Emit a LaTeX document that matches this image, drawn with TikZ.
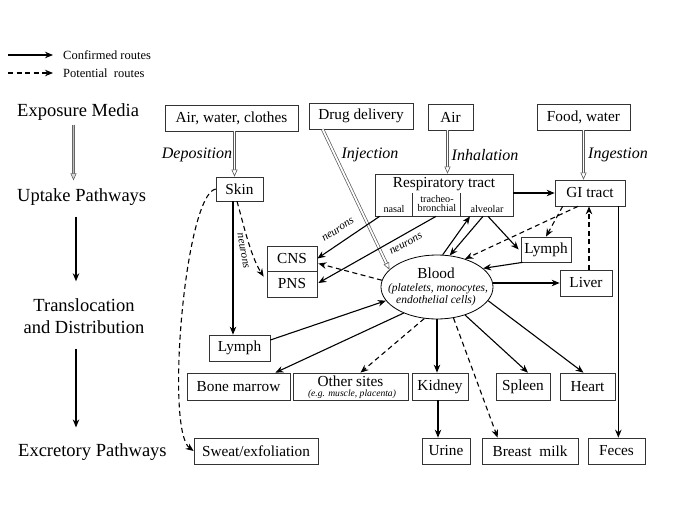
\documentclass[tikz,border=0pt]{standalone}
\usepackage{fontspec}
\setmainfont{Liberation Serif}
\usetikzlibrary{arrows.meta,shapes.geometric,calc}
\newcommand\bxf{\fontsize{15.3}{17}\selectfont}
\newcommand\bigf{\fontsize{18.5}{22}\selectfont}
\newcommand\itf{\fontsize{16}{19}\selectfont\itshape}
\newcommand\legf{\fontsize{12.5}{14}\selectfont}
\newcommand\smf{\fontsize{10.2}{10}\selectfont}
\newcommand\neuf{\fontsize{11.3}{12}\selectfont\itshape}
\newcommand\bldf{\fontsize{11.5}{13}\selectfont\itshape}
\newcommand\tinyf{\fontsize{9.6}{11}\selectfont\itshape}
\begin{document}
\begin{tikzpicture}[x=1pt,y=-1pt,
  box/.style={draw=black!80, line width=0.7pt, inner sep=0pt, minimum height=26pt, font=\bxf},
  lab/.style={inner sep=0pt},
  conf/.style={draw=black, line width=1.1pt, -{Stealth[length=8pt,width=6.5pt]}},
  pot/.style={conf, dash pattern=on 5pt off 3.5pt},
  hollow/.style={draw=none,
     postaction={draw=black!65, line width=0.7pt, double=white, double distance=1.8pt, shorten >=6pt},
     postaction={draw=black!65, line width=0.6pt, dash pattern=on 0pt off 3000pt,
       -{Triangle[open,length=7pt,width=6pt,fill=white]}}},
  hollowgray/.style={draw=none,
     postaction={draw=black!60, line width=0.7pt, double=black!25, double distance=1.6pt, shorten >=6pt},
     postaction={draw=black!60, line width=0.6pt, dash pattern=on 0pt off 3000pt,
       -{Triangle[open,length=7pt,width=6pt,fill=black!15]}}}
]
\useasboundingbox (0,0) rectangle (685,513);

% legend
\coordinate (lg1a) at (8,55);
\coordinate (lg2a) at (8,73);
\node[lab, font=\legf, anchor=west] (lg1) at (63,55) {Confirmed routes};
\node[lab, font=\legf, anchor=west] (lg2) at (63,73) {Potential\ \ routes};
\draw[conf] (lg1a) -- ($(lg1.west)+(-10,0)$);
\draw[pot] (lg2a) -- ($(lg2.west)+(-10,0)$);

% left column
\node[lab, font=\bigf, anchor=west] (expo) at (17,112) {Exposure Media};
\node[lab, font=\bigf, anchor=west] (upt) at (17,197) {Uptake Pathways};
\node[lab, font=\bigf, align=center] (trans) at (84,316) {Translocation\\and Distribution};
\node[lab, font=\bigf, anchor=west] (excr) at (18,452) {Excretory Pathways};
\coordinate (lxa) at (73.5,0);
\coordinate (lxb) at (76,0);
\path[hollowgray] ($(expo.south -| lxa)+(0,4)$) -- ($(upt.north -| lxa)+(0,-8)$);
\draw[conf] ($(upt.south -| lxb)+(0,11)$) -- ($(trans.north -| lxb)+(0,-17)$);
\draw[conf] ($(trans.south -| lxb)+(0,15)$) -- ($(excr.north -| lxb)+(0,-16)$);

% top boxes
\node[box, minimum width=133pt] (air1) at (231.5,118) {Air, water, clothes};
\node[box, minimum width=104pt] (drug) at (361,116) {Drug delivery};
\node[box, minimum width=45pt] (air2) at (450.5,117) {Air};
\node[box, minimum width=93pt] (food) at (583.5,117) {Food, water};

% italic labels
\node[lab, font=\itf] (ldep) at (197,155) {Deposition};
\node[lab, font=\itf] (linj) at (370,155) {Injection};
\node[lab, font=\itf] (linh) at (485,155) {Inhalation};
\node[lab, font=\itf] (ling) at (618,155) {Ingestion};

% uptake
\node[box, minimum width=47pt, minimum height=24pt] (skin) at (239.5,189) {Skin};
\node[box, minimum width=138pt, minimum height=42pt] (resp) at (444,195) {};
\node[lab, font=\bxf] (resptxt) at (444,184) {Respiratory tract};
\node[lab, font=\smf] (nasal) at (394,209) {nasal};
\node[lab, font=\smf, align=center] (trach) at (437,204) {tracheo-\\[-1pt]bronchial};
\node[lab, font=\smf] (alv) at (487,209) {alveolar};
\draw[black!80, line width=0.8pt] ($(resp.south west)+(38,0)$) -- ++(0,-23);
\draw[black!80, line width=0.8pt] ($(resp.south west)+(86,0)$) -- ++(0,-23);
\node[box, minimum width=70pt] (gi) at (590,193) {GI tract};

% distribution
\node[box, minimum width=50pt, minimum height=25pt] (lymphR) at (546,249.5) {Lymph};
\node[box, minimum width=52pt] (liver) at (586,283) {Liver};
\node[box, minimum width=50pt, minimum height=25pt] (cns) at (292,258.5) {CNS};
\node[box, minimum width=50pt, minimum height=26pt] (pns) at (292,284) {PNS};
\node[draw=black, line width=0.8pt, ellipse, minimum width=112pt, minimum height=64pt, inner sep=0pt] (blood) at (437,287) {};
\node[lab, font=\bxf] (bloodtxt) at (436,273) {Blood};
\node[lab, font=\bldf] (blood2) at (438,289) {(platelets, monocytes,};
\node[lab, font=\bldf] (blood3) at (436,301) {endothelial cells)};
\node[box, minimum width=61pt] (lymphL) at (239.5,348) {Lymph};

% organs
\node[box, minimum width=103pt, minimum height=27pt] (bone) at (238.5,386.5) {Bone marrow};
\node[box, minimum width=115pt, minimum height=27pt] (other) at (350.5,386.5) {};
\node[lab, font=\bxf] (othertxt) at (350.5,381) {Other sites};
\node[lab, font=\tinyf] (other2) at (352,394) {(e.g. muscle, placenta)};
\node[box, minimum width=56pt, minimum height=27pt] (kidney) at (440,386.5) {Kidney};
\node[box, minimum width=54pt, minimum height=27pt] (spleen) at (523,386.5) {Spleen};
\node[box, minimum width=55pt, minimum height=27pt] (heart) at (587.5,386.5) {Heart};

% excretion
\node[box, minimum width=124pt] (sweat) at (256,451) {Sweat/exfoliation};
\node[box, minimum width=48pt] (urine) at (446,451) {Urine};
\node[box, minimum width=96pt] (breast) at (530,451) {Breast\ \ milk};
\node[box, minimum width=57pt] (feces) at (616.5,451) {Feces};

% hollow uptake arrows
\coordinate (h1) at ($(air1.south)+(3,0)$);
\path[hollow] (h1) -- (h1 |- skin.north);
\coordinate (h2) at ($(air2.south)+(-3,0)$);
\path[hollow] (h2) -- (h2 |- resp.north);
\path[hollow] (food.south) -- (food.south |- gi.north);
\path[hollow] ($(drug.south west)+(14,0)$) -- (blood.160);

% skin connectors
\coordinate (s1) at ($(skin.south)+(-6.5,0)$);
\draw[conf] (s1) -- (s1 |- lymphL.north);
\draw[pot] ($(skin.south)+(-2.5,0)$) .. controls (243,222) and (250,255) .. ($(pns.north west)+(-3,6)$);
\node[lab, font=\neuf, rotate=-80] (neur0) at (243,251) {neurons};
\draw[pot] (skin.west) .. controls (185,195) and (165,430) .. (sweat.west);

% neurons
\draw[conf] ($(resp.south west)+(5,0)$) -- (cns.east);
\node[lab, font=\neuf, rotate=33] (neur1) at (338,230) {neurons};
\draw[conf] ($(resp.south)+(-8,0)$) -- ($(pns.east)+(1,-1)$);
\node[lab, font=\neuf, rotate=29] (neur2) at (406,244) {neurons};
\draw[pot] (blood.173) -- ($(cns.east)+(1,5)$);

% respiratory / blood / lymph / GI
\draw[conf] (blood.80) -- ($(resp.south)+(26,0)$);
\draw[conf] ($(resp.south)+(39,0)$) -- (blood.68);
\draw[conf] ($(resp.south)+(44,0)$) -- ($(lymphR.west)+(-2,0)$);
\draw[conf] (resp.east |- gi) -- (gi.west);
\draw[pot] ($(gi.south west)+(8,0)$) -- (lymphR.north);
\draw[pot] ($(gi.south)+(-12,0)$) -- (blood.45);
\draw[conf] ($(lymphR.south west)+(2,0)$) -- (blood.22);
\coordinate (lv) at ($(liver.north)+(3,0)$);
\draw[pot] (lv) -- (lv |- gi.south);
\draw[conf] (blood.east |- liver) -- (liver.west);
\coordinate (gf) at ($(gi.south east)+(-7,0)$);
\draw[conf] (gf) -- (gf |- feces.north);

% blood to organs
\draw[conf] (blood.-45) -- ($(spleen.north)+(5,0)$);
\draw[conf] (blood.-15) -- ($(heart.north)+(-4,0)$);
\draw[conf] (blood.south) -- (blood.south |- kidney.north);
\draw[pot] (blood.-62) -- ($(breast.north west)+(16,0)$);
\draw[pot] (blood.-112) -- ($(other.north)+(10,0)$);
\draw[conf] (blood.-142) -- ($(bone.north east)+(-15,0)$);
\draw[conf] ($(lymphL.east)+(0,-8)$) -- (blood.-165);
\coordinate (ku) at ($(kidney.south)+(-2,0)$);
\draw[conf] (ku) -- (ku |- urine.north);
\end{tikzpicture}
\end{document}
